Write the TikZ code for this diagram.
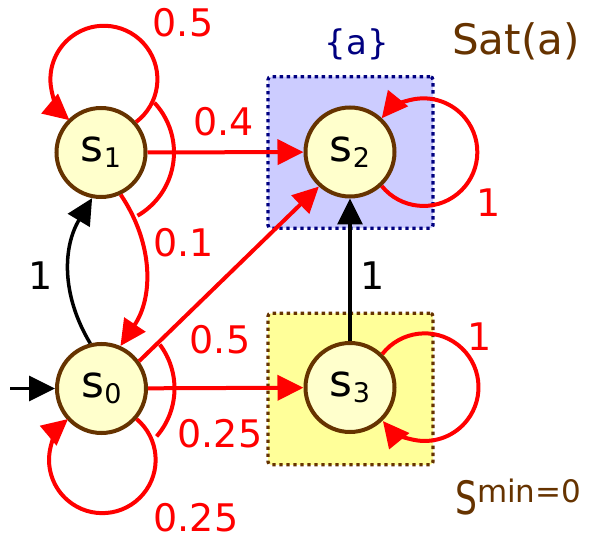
\documentclass[tikz,border=0pt]{standalone}
\usepackage{fontspec}
\setmainfont{DejaVu Sans}
\usetikzlibrary{arrows.meta,backgrounds}
\definecolor{brownc}{HTML}{663300}
\definecolor{navyc}{HTML}{000080}
\definecolor{statefill}{HTML}{FFFFCC}
\definecolor{satfill}{HTML}{CCCCFF}
\definecolor{minfill}{HTML}{FFFF99}
\newcommand{\numfont}{\fontsize{38}{40}\selectfont}
\newcommand{\stname}[1]{s\raisebox{-6pt}{\fontsize{27}{27}\selectfont #1}}

\begin{document}
\begin{tikzpicture}[
  x=1pt, y=1pt,
  state/.style={circle, draw=brownc, fill=statefill, line width=4pt, minimum size=89pt, inner sep=0pt, font=\fontsize{44}{44}\selectfont},
  prob/.style={-{Triangle[length=26pt,width=25pt]}, red, line width=4pt},
  det/.style={-{Triangle[length=26pt,width=25pt]}, black, line width=3.5pt},
  split/.style={red, line width=4pt},
  plabel/.style={red, font=\numfont, anchor=base, inner sep=0pt},
  dlabel/.style={black, font=\numfont, anchor=base, inner sep=0pt},
  setbox/.style={rectangle, rounded corners=3pt, line width=3.3pt, dash pattern=on 3.3pt off 3.7pt, minimum width=165pt, minimum height=151.5pt}
]
\useasboundingbox (0,0) rectangle (589,539);

% states
\node[state] (s1) at (101,386.5) {\stname{1}};
\node[state] (s2) at (350,387) {\stname{2}};
\node[state] (s0) at (101.5,150.5) {\stname{0}};
\node[state] (s3) at (350,151.5) {\stname{3}};
\coordinate (init) at (10,150.5);

% sets
\begin{scope}[on background layer]
\node[setbox, draw=navyc, fill=satfill] (boxa) at (350.5,386.5) {};
\node[setbox, draw=brownc, fill=minfill] (boxmin) at (350.5,150) {};
\end{scope}

% transitions
\draw[det] (init) -- (s0);
\draw[prob] (s1) -- (s2);
\draw[prob] (s0) -- (s3);
\draw[det] (s3) -- (s2);
\draw[prob] (s0.36) -- (s2.228);
\draw[prob] (s1.-65) to[out=-56, in=56] (s0.66);
\draw[det] (s0.104) to[out=121, in=239] (s1.-101);

% self loops
\draw[prob] (s1.41.5) arc[start angle=-53, end angle=230, radius=53.5pt];
\draw[prob] (s0.-41.4) arc[start angle=50, end angle=-230, radius=53.3pt];
\draw[prob] (s2.-47) arc[start angle=-141, end angle=141, radius=53.8pt];
\draw[prob] (s3.46.5) arc[start angle=142, end angle=-141, radius=53.8pt];

% distribution arcs
\draw[split] (s1.center) ++(43:73pt) arc[start angle=43, end angle=-60, radius=73pt];
\draw[split] (s0.center) ++(37:73pt) arc[start angle=37, end angle=-41, radius=73pt];

% probabilities
\node[plabel] (p11) at (183,502) {0.5};
\node[plabel] (p12) at (223.5,403) {0.4};
\node[plabel] (p10) at (183.5,282) {0.1};
\node[plabel] (p02) at (220,186) {0.5};
\node[plabel] (p03) at (220,92) {0.25};
\node[plabel] (p00) at (196,8) {0.25};
\node[plabel] (p22) at (489,322) {1};
\node[plabel] (p33) at (480,189) {1};
\node[dlabel] (p01) at (41,250) {1};
\node[dlabel] (p32) at (373,250) {1};

% set names
\node[navyc, font=\fontsize{34}{34}\selectfont, anchor=base, inner sep=0pt] (la) at (357,484) {\{a\}};
\node[brownc, font=\fontsize{42}{42}\selectfont, anchor=base, inner sep=0pt] (lsat) at (516,484) {Sat(a)};
\node[brownc, anchor=base west, inner sep=0pt] (lmin) at (455,25)
  {{\fontsize{46}{46}\selectfont\scalebox{0.75}[1]{S}}\raisebox{12pt}{\fontsize{31}{31}\selectfont min=0}};

\end{tikzpicture}
\end{document}
